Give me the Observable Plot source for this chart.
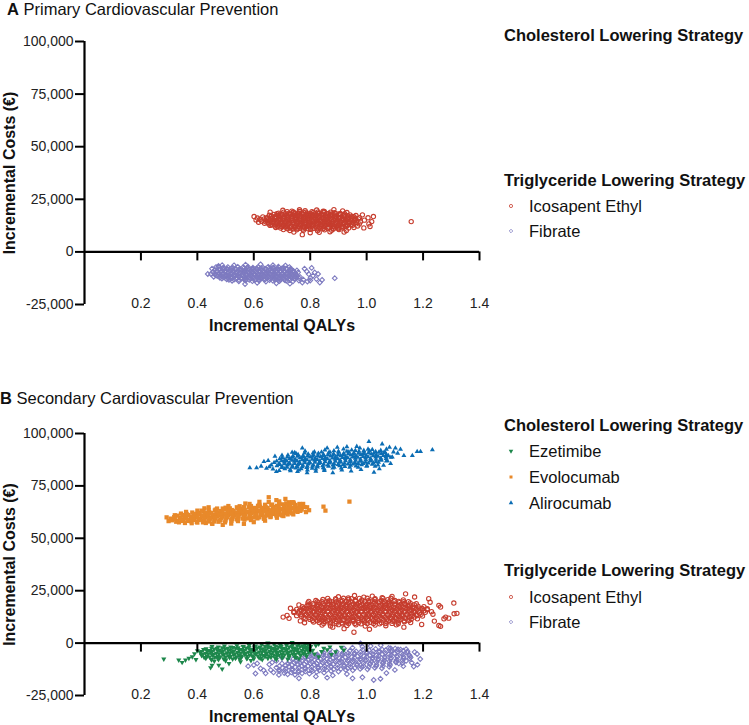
<!DOCTYPE html>
<html>
<head>
<meta charset="utf-8">
<script src="https://cdn.jsdelivr.net/npm/d3@7"></script>
<script src="https://cdn.jsdelivr.net/npm/@observablehq/plot@0.6"></script>
<style>
html,body{margin:0;padding:0;background:#fff;}
body{font-family:"Liberation Sans",Arial,Helvetica,sans-serif;color:#111;}
#wrap{position:relative;width:749px;height:725px;overflow:hidden;}
.abs{position:absolute;white-space:nowrap;line-height:1;transform:translateY(-50%);}
.title{font-size:16.5px;}
.lh{font-size:16.5px;font-weight:bold;}
.li{font-size:16.5px;}
</style>
</head>
<body>
<div id="wrap"></div>
<script>
// ---------- axis ticks ----------
const xTicks = [0.2, 0.4, 0.6, 0.8, 1.0, 1.2, 1.4];
const xTickLabels = ["0.2", "0.4", "0.6", "0.8", "1.0", "1.2", "1.4"];
const yTicks = [-25000, 0, 25000, 50000, 75000, 100000];
const yTickLabels = ["-25,000", "0", "25,000", "50,000", "75,000", "100,000"];

// ---------- texts ----------
const panelTitles = [["A", "Primary Cardiovascular Prevention"], ["B", "Secondary Cardiovascular Prevention"]];
const legendTitles = ["Cholesterol Lowering Strategy", "Triglyceride Lowering Strategy"];
const cholesterolNames = ["Ezetimibe", "Evolocumab", "Alirocumab"];
const triglycerideNames = ["Icosapent Ethyl", "Fibrate"];
const xTitle = "Incremental QALYs";
const yTitle = "Incremental Costs (€)";

// ---------- data: [QALY, cost in thousand €] pairs ----------
// Panel A – Icosapent Ethyl (outer spread + dense core)
const icosapentA = [
0.703,19.8,0.735,19.4,0.782,19.6,0.846,19.3,0.884,20.1,0.915,19.5,0.762,20.0,0.823,19.9,
0.688,18.4,0.706,18.9,0.724,18.3,0.741,18.8,0.758,18.5,0.776,18.9,0.793,18.3,0.811,18.7,0.829,18.4,0.848,18.8,0.866,18.2,0.885,18.6,0.906,18.3,0.93,18.7,
0.655,17.4,0.671,17.8,0.686,17.3,0.701,17.7,0.716,17.5,0.731,17.9,0.746,17.3,0.762,17.6,0.777,17.8,0.793,17.4,0.808,17.7,0.824,17.5,0.839,17.9,0.855,17.3,0.871,17.7,0.887,17.5,0.903,17.8,0.921,17.4,0.941,17.6,0.962,17.3,
0.632,16.6,0.646,16.3,0.661,16.8,0.675,16.4,0.69,16.7,0.704,16.2,0.718,16.6,0.733,16.9,0.747,16.4,0.761,16.7,0.776,16.3,0.79,16.6,0.805,16.8,0.819,16.4,0.834,16.6,0.848,16.2,0.863,16.7,0.877,16.5,0.892,16.8,0.906,16.3,0.921,16.6,0.937,16.4,0.955,16.7,0.975,16.3,
0.622,15.4,0.637,15.7,0.651,15.3,0.665,15.6,0.679,15.8,0.693,15.4,0.707,15.6,0.721,15.3,0.735,15.7,0.749,15.5,0.763,15.2,0.777,15.6,0.791,15.8,0.805,15.4,0.819,15.6,0.833,15.3,0.847,15.7,0.861,15.5,0.875,15.2,0.889,15.6,0.903,15.8,0.918,15.4,0.934,15.6,0.952,15.3,0.971,15.7,
0.628,14.6,0.642,14.3,0.656,14.7,0.67,14.4,0.684,14.6,0.698,14.2,0.712,14.5,0.726,14.8,0.74,14.3,0.754,14.6,0.768,14.4,0.782,14.7,0.796,14.3,0.81,14.5,0.824,14.8,0.838,14.4,0.852,14.6,0.866,14.2,0.88,14.5,0.894,14.7,0.908,14.3,0.923,14.6,0.939,14.4,0.957,14.7,0.978,14.3,
0.638,13.6,0.653,13.3,0.668,13.7,0.682,13.4,0.696,13.6,0.71,13.2,0.724,13.5,0.738,13.8,0.752,13.4,0.766,13.6,0.78,13.3,0.794,13.7,0.808,13.4,0.822,13.6,0.836,13.2,0.85,13.5,0.864,13.8,0.878,13.4,0.892,13.6,0.906,13.3,0.921,13.7,0.937,13.4,0.955,13.6,0.974,13.3,
0.658,12.6,0.674,12.3,0.689,12.7,0.704,12.4,0.719,12.6,0.734,12.2,0.749,12.5,0.764,12.8,0.779,12.3,0.794,12.6,0.809,12.4,0.824,12.7,0.839,12.3,0.854,12.5,0.869,12.8,0.884,12.4,0.899,12.6,0.915,12.2,0.932,12.5,0.951,12.7,0.968,12.3,
0.678,11.6,0.695,11.3,0.712,11.7,0.729,11.4,0.746,11.6,0.763,11.2,0.78,11.5,0.797,11.8,0.814,11.3,0.831,11.6,0.848,11.4,0.865,11.7,0.882,11.2,0.899,11.5,0.917,11.7,0.936,11.3,0.955,11.6,
0.705,10.6,0.728,10.2,0.752,10.5,0.776,10.3,0.801,10.7,0.826,10.1,0.851,10.5,0.876,10.3,0.902,10.6,0.928,10.2,
0.742,9.4,0.772,8.2,0.8,9.1,0.832,9.3,0.87,9.6,0.92,9.4,
0.601,16.8,0.608,15.2,0.617,14.1,0.613,16.1,0.992,15.1,1.005,16.2,1.012,12.1,1.018,14.4,1.024,16.8,1.008,13.3,0.985,17.6,0.99,11.4,0.658,18.9,1.158,14.4
];
const icosapentACore = [
0.718,19.1,0.74,19.0,0.762,19.2,0.784,18.9,0.806,19.1,0.828,19.0,0.85,19.2,0.872,18.9,
0.682,18.1,0.697,17.9,0.712,18.2,0.727,17.9,0.742,18.1,0.757,18.0,0.772,18.2,0.787,17.9,0.802,18.1,0.817,18.0,0.832,18.2,0.847,17.9,0.862,18.1,0.877,18.0,0.892,18.2,0.907,17.9,0.922,18.1,
0.663,17.1,0.678,16.9,0.693,17.2,0.708,16.9,0.723,17.1,0.738,17.0,0.753,17.2,0.768,16.9,0.783,17.1,0.798,17.0,0.813,17.2,0.828,16.9,0.843,17.1,0.858,17.0,0.873,17.2,0.888,16.9,0.903,17.1,0.918,17.0,0.933,17.2,0.948,16.9,
0.646,16.0,0.661,15.9,0.676,16.1,0.691,15.9,0.706,16.0,0.721,16.1,0.736,15.9,0.751,16.0,0.766,16.1,0.781,15.9,0.796,16.0,0.811,16.1,0.826,15.9,0.841,16.0,0.856,16.1,0.871,15.9,0.886,16.0,0.901,16.1,0.916,15.9,0.931,16.0,0.946,16.1,0.961,15.9,
0.643,15.0,0.658,14.9,0.673,15.1,0.688,14.9,0.703,15.0,0.718,15.1,0.733,14.9,0.748,15.0,0.763,15.1,0.778,14.9,0.793,15.0,0.808,15.1,0.823,14.9,0.838,15.0,0.853,15.1,0.868,14.9,0.883,15.0,0.898,15.1,0.913,14.9,0.928,15.0,0.943,15.1,0.958,14.9,
0.65,14.0,0.665,13.9,0.68,14.1,0.695,13.9,0.71,14.0,0.725,14.1,0.74,13.9,0.755,14.0,0.77,14.1,0.785,13.9,0.8,14.0,0.815,14.1,0.83,13.9,0.845,14.0,0.86,14.1,0.875,13.9,0.89,14.0,0.905,14.1,0.92,13.9,0.935,14.0,0.95,14.1,0.965,13.9,
0.662,13.0,0.677,12.9,0.692,13.1,0.707,12.9,0.722,13.0,0.737,13.1,0.752,12.9,0.767,13.0,0.782,13.1,0.797,12.9,0.812,13.0,0.827,13.1,0.842,12.9,0.857,13.0,0.872,13.1,0.887,12.9,0.902,13.0,0.917,13.1,0.932,12.9,0.947,13.0,
0.685,12.0,0.7,11.9,0.715,12.1,0.73,11.9,0.745,12.0,0.76,12.1,0.775,11.9,0.79,12.0,0.805,12.1,0.82,11.9,0.835,12.0,0.85,12.1,0.865,11.9,0.88,12.0,0.895,12.1,0.91,11.9,0.925,12.0,
0.72,11.0,0.738,10.9,0.756,11.1,0.774,10.9,0.792,11.0,0.81,11.1,0.828,10.9,0.846,11.0,0.864,11.1,0.882,10.9,0.9,11.0
];

// Panel A – Fibrate
const fibrateA = [
0.53,-6.4,0.571,-6.1,0.624,-5.9,0.668,-6.3,0.712,-6.5,
0.475,-7.0,0.492,-7.5,0.508,-7.2,0.526,-7.6,0.543,-7.1,0.561,-7.4,0.579,-7.0,0.597,-7.5,0.615,-7.2,0.633,-7.6,0.651,-7.1,0.669,-7.4,0.687,-7.0,0.706,-7.5,0.726,-7.2,
0.462,-8.5,0.477,-8.2,0.492,-8.6,0.507,-8.3,0.522,-8.7,0.537,-8.2,0.552,-8.5,0.567,-8.8,0.582,-8.3,0.597,-8.6,0.612,-8.4,0.627,-8.7,0.642,-8.2,0.657,-8.5,0.672,-8.8,0.687,-8.3,0.702,-8.6,0.718,-8.2,0.735,-8.5,0.753,-8.8,
0.455,-9.6,0.469,-9.3,0.483,-9.7,0.497,-9.4,0.511,-9.8,0.525,-9.3,0.539,-9.6,0.553,-9.9,0.567,-9.4,0.581,-9.7,0.595,-9.5,0.609,-9.8,0.623,-9.3,0.637,-9.6,0.651,-9.9,0.665,-9.4,0.679,-9.7,0.693,-9.3,0.708,-9.6,0.723,-9.9,0.739,-9.4,0.757,-9.7,
0.448,-10.5,0.462,-10.8,0.476,-10.4,0.49,-10.7,0.504,-10.9,0.518,-10.5,0.532,-10.7,0.546,-10.3,0.56,-10.6,0.574,-10.9,0.588,-10.4,0.602,-10.7,0.616,-10.5,0.63,-10.8,0.644,-10.4,0.658,-10.6,0.672,-10.9,0.686,-10.5,0.7,-10.7,0.715,-10.3,0.731,-10.6,0.749,-10.9,
0.458,-11.8,0.473,-11.5,0.488,-11.9,0.503,-11.6,0.518,-12.0,0.533,-11.5,0.548,-11.8,0.563,-11.6,0.578,-11.9,0.593,-11.4,0.608,-11.7,0.623,-12.0,0.638,-11.6,0.653,-11.8,0.668,-11.5,0.683,-11.9,0.698,-11.6,0.713,-11.8,0.729,-11.4,0.746,-11.7,0.764,-11.9,
0.487,-12.7,0.504,-13.0,0.521,-12.6,0.538,-12.9,0.555,-12.7,0.572,-13.1,0.589,-12.6,0.606,-12.9,0.623,-12.7,0.64,-13.0,0.657,-12.6,0.674,-12.9,0.691,-12.7,0.708,-13.1,0.726,-12.6,0.744,-12.9,0.762,-12.7,
0.523,-13.7,0.547,-14.0,0.571,-13.6,0.595,-13.9,0.619,-13.7,0.643,-14.1,0.667,-13.6,0.691,-13.9,0.715,-13.7,0.739,-14.0,0.76,-13.6,
0.569,-15.3,0.612,-14.7,0.68,-14.9,0.728,-15.1,0.772,-14.6,
0.437,-10.5,0.452,-8.0,0.466,-7.2,0.475,-6.7,0.488,-6.3,0.78,-8.0,0.788,-9.3,0.795,-10.6,0.801,-12.4,0.81,-11.3,0.816,-9.8,0.822,-12.9,0.834,-14.6,0.842,-13.3,0.828,-10.5,0.776,-13.2,0.887,-12.5,0.79,-14.1,0.805,-7.6,0.8,-13.6
];
const fibrateACore = [
0.49,-7.9,0.505,-8.0,0.52,-7.8,0.535,-7.9,0.55,-8.0,0.565,-7.8,0.58,-7.9,0.595,-8.0,0.61,-7.8,0.625,-7.9,0.64,-8.0,0.655,-7.8,0.67,-7.9,0.685,-8.0,0.7,-7.8,0.715,-7.9,0.73,-8.0,
0.47,-9.0,0.485,-9.1,0.5,-8.9,0.515,-9.0,0.53,-9.1,0.545,-8.9,0.56,-9.0,0.575,-9.1,0.59,-8.9,0.605,-9.0,0.62,-9.1,0.635,-8.9,0.65,-9.0,0.665,-9.1,0.68,-8.9,0.695,-9.0,0.71,-9.1,0.725,-8.9,0.74,-9.0,
0.462,-10.1,0.477,-10.0,0.492,-10.2,0.507,-10.0,0.522,-10.1,0.537,-10.2,0.552,-10.0,0.567,-10.1,0.582,-10.2,0.597,-10.0,0.612,-10.1,0.627,-10.2,0.642,-10.0,0.657,-10.1,0.672,-10.2,0.687,-10.0,0.702,-10.1,0.717,-10.2,0.732,-10.0,0.747,-10.1,
0.467,-11.2,0.482,-11.1,0.497,-11.3,0.512,-11.1,0.527,-11.2,0.542,-11.3,0.557,-11.1,0.572,-11.2,0.587,-11.3,0.602,-11.1,0.617,-11.2,0.632,-11.3,0.647,-11.1,0.662,-11.2,0.677,-11.3,0.692,-11.1,0.707,-11.2,0.722,-11.3,0.737,-11.1,0.752,-11.2,
0.48,-12.3,0.495,-12.2,0.51,-12.4,0.525,-12.2,0.54,-12.3,0.555,-12.4,0.57,-12.2,0.585,-12.3,0.6,-12.4,0.615,-12.2,0.63,-12.3,0.645,-12.4,0.66,-12.2,0.675,-12.3,0.69,-12.4,0.705,-12.2,0.72,-12.3,0.735,-12.4,0.75,-12.2,
0.512,-13.3,0.53,-13.2,0.548,-13.4,0.566,-13.2,0.584,-13.3,0.602,-13.4,0.62,-13.2,0.638,-13.3,0.656,-13.4,0.674,-13.2,0.692,-13.3,0.71,-13.4,0.728,-13.2
];

// Panel B – Alirocumab
const alirocumabB = [
0.745,90.9,0.782,91.6,0.815,91.2,0.852,92.1,0.884,91.7,0.918,92.6,0.947,92.1,0.976,93.0,1.005,92.5,0.896,93.4,0.772,93.0,
0.721,89.7,0.739,89.3,0.757,89.9,0.775,89.5,0.793,90.2,0.811,89.8,0.829,90.5,0.847,90.0,0.865,90.7,0.883,90.3,0.901,91.0,0.919,90.5,0.937,91.2,0.955,90.8,0.973,91.5,0.991,91.0,1.01,91.7,1.032,91.3,1.05,91.9,
0.692,87.9,0.71,87.5,0.728,88.1,0.746,87.7,0.764,88.4,0.782,88.0,0.8,88.7,0.818,88.3,0.836,88.9,0.854,88.5,0.872,89.2,0.89,88.8,0.908,89.4,0.926,89.0,0.944,89.7,0.962,89.3,0.98,89.9,0.998,89.6,1.016,90.2,1.034,89.8,1.052,90.4,1.07,90.0,
0.672,86.1,0.69,85.8,0.708,86.4,0.726,86.0,0.744,86.7,0.762,86.3,0.78,86.9,0.798,86.5,0.816,87.2,0.834,86.8,0.852,87.4,0.87,87.0,0.888,87.7,0.906,87.3,0.924,87.9,0.942,87.5,0.96,88.2,0.978,87.8,0.996,88.4,1.014,88.0,1.032,88.7,1.05,88.3,1.068,88.9,1.086,88.6,
0.682,84.6,0.7,84.3,0.719,84.9,0.737,84.5,0.756,85.1,0.774,84.8,0.793,85.4,0.811,85.0,0.83,85.6,0.848,85.3,0.867,85.9,0.885,85.5,0.904,86.2,0.922,85.8,0.941,86.4,0.959,86.1,0.978,86.7,0.996,86.3,1.015,86.9,1.033,86.6,1.052,87.2,1.07,86.8,
0.71,83.2,0.729,82.8,0.749,83.5,0.768,83.1,0.788,83.8,0.807,83.4,0.826,84.0,0.846,83.6,0.865,84.3,0.885,83.9,0.904,84.6,0.923,84.2,0.943,84.8,0.962,84.5,0.982,85.1,1.001,84.7,1.02,85.3,1.04,85.0,
0.755,81.8,0.789,81.2,0.82,82.0,0.85,82.3,0.88,81.2,0.912,82.5,0.945,82.1,0.98,82.8,1.026,81.5,0.68,81.8,
0.586,83.6,0.61,83.6,0.626,84.4,0.645,83.4,0.636,86.6,0.651,87.1,0.662,85.0,0.675,89.1,0.655,84.1,0.668,83.0,0.69,82.3,0.7,89.6,0.736,91.0,1.008,96.1,1.055,95.0,0.965,93.8,0.93,93.6,0.86,93.0,
1.081,93.4,1.102,93.0,1.132,89.5,1.162,89.5,1.179,91.4,1.191,91.4,1.233,92.2,1.091,88.7,1.073,87.1,1.095,91.2,1.11,90.6,1.085,85.6,1.06,84.8,1.045,83.1,1.12,92.4,1.07,92.5,1.065,91.0
];
const alirocumabBCore = [
0.701,88.5,0.719,88.7,0.737,88.6,0.755,89.1,0.773,88.9,0.791,89.2,0.809,89.1,0.827,89.5,0.845,89.4,0.863,89.8,0.881,89.6,0.899,90.0,0.917,89.9,0.935,90.3,0.953,90.1,0.971,90.5,0.989,90.4,1.007,90.8,1.025,90.6,1.043,91.0,1.061,90.9,
0.681,86.8,0.699,87.0,0.717,86.9,0.735,87.2,0.753,87.1,0.771,87.5,0.789,87.4,0.807,87.7,0.825,87.6,0.843,88.0,0.861,87.9,0.879,88.3,0.897,88.1,0.915,88.5,0.933,88.4,0.951,88.8,0.969,88.6,0.987,89.0,1.005,88.9,1.023,89.3,1.041,89.1,1.059,89.5,1.077,89.4,
0.691,85.2,0.709,85.5,0.727,85.4,0.745,85.7,0.763,85.6,0.781,86.0,0.799,85.9,0.817,86.2,0.835,86.1,0.853,86.5,0.871,86.3,0.889,86.7,0.907,86.6,0.925,87.0,0.943,86.9,0.961,87.2,0.979,87.1,0.997,87.5,1.015,87.4,1.033,87.7,1.051,87.6,1.069,88.0,
0.7,83.7,0.718,83.9,0.736,83.9,0.754,84.2,0.772,84.1,0.79,84.4,0.808,84.4,0.826,84.7,0.844,84.6,0.862,84.9,0.88,84.9,0.898,85.2,0.916,85.1,0.934,85.4,0.952,85.4,0.97,85.7,0.988,85.6,1.006,85.9,1.024,85.9,1.042,86.2,
0.73,82.2,0.76,82.5,0.79,82.6,0.82,83.0,0.85,83.0,0.88,83.5,0.91,83.5,0.94,83.9,0.97,83.9,1.0,84.3,1.03,84.3,
0.75,90.4,0.78,90.7,0.81,90.7,0.84,91.1,0.87,91.1,0.9,91.5,0.93,91.5,0.96,91.9,0.99,91.9,1.02,92.3
];

// Panel B – Evolocumab
const evolocumabB = [
0.425,64.3,0.47,64.2,0.51,65.4,0.55,65.3,0.585,66.4,0.62,66.0,0.653,67.3,0.69,67.6,0.725,67.2,
0.342,61.8,0.362,61.6,0.382,62.3,0.402,62.1,0.422,62.8,0.442,62.6,0.462,63.3,0.482,63.0,0.502,63.8,0.522,63.5,0.542,64.3,0.562,64.0,0.582,64.8,0.602,64.5,0.622,65.2,0.642,64.9,0.662,65.8,0.682,65.5,0.702,66.2,0.722,65.9,0.742,66.6,0.762,66.4,
0.318,60.1,0.338,59.9,0.357,60.6,0.377,60.4,0.396,61.1,0.416,60.9,0.435,61.6,0.455,61.3,0.474,62.0,0.494,61.8,0.513,62.5,0.533,62.3,0.552,63.0,0.572,62.7,0.591,63.4,0.611,63.2,0.63,63.9,0.65,63.7,0.669,64.4,0.689,64.1,0.708,64.8,0.728,64.6,0.747,65.3,0.767,65.1,
0.31,58.6,0.33,58.4,0.35,59.1,0.37,58.9,0.39,59.6,0.41,59.4,0.43,60.1,0.45,59.9,0.47,60.6,0.49,60.3,0.51,61.0,0.53,60.8,0.55,61.5,0.57,61.3,0.59,62.0,0.61,61.8,0.63,62.5,0.65,62.3,0.67,63.0,0.69,62.8,0.71,63.5,0.73,63.2,0.75,63.9,0.77,63.7,
0.335,57.6,0.356,57.3,0.377,58.1,0.398,57.8,0.419,58.6,0.44,58.3,0.461,59.1,0.482,58.8,0.503,59.6,0.524,59.3,0.545,60.1,0.566,59.8,0.587,60.6,0.608,60.3,0.629,61.1,0.65,60.9,0.671,61.6,0.692,61.3,0.713,62.1,0.734,61.9,0.755,62.6,
0.43,57.3,0.452,57.1,0.475,57.9,0.498,57.6,0.521,58.4,0.544,58.2,0.567,58.9,0.59,58.7,0.613,59.5,0.636,59.3,0.659,60.1,0.682,59.8,0.705,60.6,
0.453,56.9,0.49,56.4,0.52,57.0,0.565,56.9,0.6,57.7,0.64,58.4,
0.291,60.0,0.298,58.2,0.305,59.4,0.32,61.0,0.36,62.6,0.4,63.2,0.653,69.6,0.712,68.8,0.736,67.2,0.766,65.6,0.789,64.8,0.775,66.4,0.796,63.4,0.847,65.1,0.854,63.2,0.939,67.5,0.68,68.2,0.62,67.4,0.57,66.6,0.5,64.6,0.44,64.8,0.785,62.5
];
const evolocumabBCore = [
0.328,60.8,0.348,61.1,0.368,61.1,0.388,61.6,0.408,61.6,0.428,62.1,0.448,62.1,0.468,62.5,0.488,62.6,0.508,63.0,0.528,63.1,0.548,63.5,0.568,63.5,0.588,64.0,0.608,64.0,0.628,64.5,0.648,64.5,0.668,64.9,0.688,65.0,0.708,65.4,0.728,65.5,0.748,65.9,0.768,65.9,
0.32,59.3,0.34,59.6,0.36,59.6,0.38,60.1,0.4,60.1,0.42,60.6,0.44,60.6,0.46,61.0,0.48,61.1,0.5,61.5,0.52,61.6,0.54,62.0,0.56,62.0,0.58,62.5,0.6,62.5,0.62,63.0,0.64,63.0,0.66,63.4,0.68,63.5,0.7,63.9,0.72,64.0,0.74,64.4,0.76,64.4,0.78,64.9,
0.325,57.9,0.345,58.3,0.365,58.3,0.385,58.8,0.405,58.8,0.425,59.2,0.445,59.3,0.465,59.7,0.485,59.7,0.505,60.2,0.525,60.2,0.545,60.7,0.565,60.7,0.585,61.1,0.605,61.2,0.625,61.6,0.645,61.7,0.665,62.1,0.685,62.1,0.705,62.6,0.725,62.6,0.745,63.1,0.765,63.1,
0.38,57.2,0.4,57.5,0.42,57.6,0.44,58.0,0.46,58.0,0.48,58.5,0.5,58.5,0.52,59.0,0.54,59.0,0.56,59.4,0.58,59.5,0.6,59.9,0.62,60.0,0.64,60.4,0.66,60.4,0.68,60.9,0.7,60.9,0.72,61.4,0.74,61.4,
0.415,63.2,0.44,63.6,0.465,63.7,0.49,64.2,0.515,64.3,0.54,64.8,0.565,64.9,0.59,65.4,0.615,65.5,0.64,66.0,0.665,66.1,0.69,66.6,0.715,66.7,0.74,67.2
];

// Panel B – Icosapent Ethyl
const icosapentB = [
0.9,22.1,0.935,21.6,0.957,22.7,0.99,21.9,1.02,22.4,1.055,21.7,1.09,22.3,1.138,23.5,
0.82,20.3,0.845,20.8,0.868,20.2,0.891,20.7,0.914,20.4,0.937,20.9,0.96,20.3,0.983,20.6,1.006,20.2,1.029,20.8,1.052,20.4,1.075,20.7,1.1,20.3,1.13,20.6,
0.792,19.2,0.81,18.8,0.828,19.3,0.846,18.9,0.864,19.1,0.882,18.7,0.9,19.2,0.918,18.9,0.936,19.4,0.954,18.8,0.972,19.1,0.99,18.7,1.008,19.3,1.026,18.9,1.044,19.2,1.062,18.8,1.08,19.1,1.098,18.7,1.116,19.3,1.134,18.9,1.154,19.2,1.176,18.8,
0.772,17.4,0.789,17.8,0.806,17.3,0.823,17.7,0.84,17.5,0.857,17.2,0.874,17.6,0.891,17.8,0.908,17.4,0.925,17.7,0.942,17.3,0.959,17.6,0.976,17.8,0.993,17.4,1.01,17.6,1.027,17.2,1.044,17.7,1.061,17.5,1.078,17.8,1.095,17.3,1.112,17.6,1.129,17.4,1.146,17.8,1.163,17.3,1.182,17.6,1.203,17.4,
0.752,16.1,0.769,15.8,0.786,16.3,0.803,15.9,0.82,16.2,0.837,15.7,0.854,16.1,0.871,16.4,0.888,15.8,0.905,16.1,0.922,15.9,0.939,16.3,0.956,15.8,0.973,16.1,0.99,16.4,1.007,15.9,1.024,16.2,1.041,15.7,1.058,16.1,1.075,16.3,1.092,15.8,1.109,16.2,1.126,15.9,1.143,16.3,1.16,15.8,1.178,16.1,1.197,16.4,1.215,15.9,
0.742,14.6,0.759,14.3,0.776,14.8,0.793,14.4,0.81,14.7,0.827,14.2,0.844,14.6,0.861,14.9,0.878,14.3,0.895,14.6,0.912,14.4,0.929,14.8,0.946,14.3,0.963,14.6,0.98,14.9,0.997,14.4,1.014,14.7,1.031,14.2,1.048,14.6,1.065,14.8,1.082,14.3,1.099,14.7,1.116,14.4,1.133,14.8,1.15,14.3,1.168,14.6,1.187,14.4,1.208,14.7,
0.752,13.1,0.769,12.8,0.786,13.3,0.803,12.9,0.82,13.2,0.837,12.7,0.854,13.1,0.871,13.4,0.888,12.8,0.905,13.1,0.922,12.9,0.939,13.3,0.956,12.8,0.973,13.1,0.99,13.4,1.007,12.9,1.024,13.2,1.041,12.7,1.058,13.1,1.075,13.3,1.092,12.8,1.109,13.2,1.126,12.9,1.143,13.3,1.16,12.8,1.178,13.1,1.198,12.9,
0.782,11.6,0.799,11.3,0.816,11.8,0.833,11.4,0.85,11.7,0.867,11.2,0.884,11.6,0.901,11.9,0.918,11.3,0.935,11.6,0.952,11.4,0.969,11.8,0.986,11.3,1.003,11.6,1.02,11.9,1.037,11.4,1.054,11.7,1.071,11.2,1.088,11.6,1.105,11.8,1.122,11.3,1.139,11.7,1.158,11.4,1.18,11.6,
0.812,10.1,0.832,9.8,0.852,10.3,0.872,9.9,0.892,10.2,0.912,9.7,0.932,10.1,0.952,10.4,0.972,9.8,0.992,10.1,1.012,9.9,1.032,10.3,1.052,9.8,1.072,10.1,1.092,10.4,1.112,9.9,1.134,10.2,1.156,9.8,
0.842,8.6,0.872,8.2,0.9,8.8,0.93,8.4,0.962,8.7,0.995,8.1,1.03,8.6,1.068,8.3,1.105,8.7,
0.88,7.6,0.92,6.9,0.955,5.2,1.01,6.6,1.132,7.6,
0.704,12.4,0.718,13.2,0.742,15.1,0.777,16.4,0.795,19.9,0.73,16.6,0.725,11.8,0.76,18.2,0.765,10.6,0.78,9.7,
1.197,16.4,1.215,16.4,1.235,13.8,1.256,18.0,1.262,17.2,1.274,11.6,1.28,12.4,1.256,8.4,1.262,8.0,1.291,11.9,1.309,19.1,1.31,14.0,1.32,14.2,1.225,19.5,1.24,10.5,1.22,21.2,1.17,22.0,1.195,8.9,1.23,15.0
];
const icosapentBCore = [
0.862,21.3,0.89,21.2,0.918,21.4,0.946,21.2,0.974,21.3,1.002,21.4,1.03,21.2,1.058,21.3,1.086,21.4,
0.825,19.8,0.842,19.7,0.859,19.9,0.876,19.7,0.893,19.8,0.91,19.9,0.927,19.7,0.944,19.8,0.961,19.9,0.978,19.7,0.995,19.8,1.012,19.9,1.029,19.7,1.046,19.8,1.063,19.9,1.08,19.7,1.097,19.8,1.114,19.9,1.131,19.7,1.148,19.8,
0.795,18.3,0.812,18.2,0.829,18.4,0.846,18.2,0.863,18.3,0.88,18.4,0.897,18.2,0.914,18.3,0.931,18.4,0.948,18.2,0.965,18.3,0.982,18.4,0.999,18.2,1.016,18.3,1.033,18.4,1.05,18.2,1.067,18.3,1.084,18.4,1.101,18.2,1.118,18.3,1.135,18.4,1.152,18.2,1.169,18.3,
0.778,16.8,0.795,16.7,0.812,16.9,0.829,16.7,0.846,16.8,0.863,16.9,0.88,16.7,0.897,16.8,0.914,16.9,0.931,16.7,0.948,16.8,0.965,16.9,0.982,16.7,0.999,16.8,1.016,16.9,1.033,16.7,1.05,16.8,1.067,16.9,1.084,16.7,1.101,16.8,1.118,16.9,1.135,16.7,1.152,16.8,1.169,16.9,1.186,16.7,
0.761,15.3,0.778,15.2,0.795,15.4,0.812,15.2,0.829,15.3,0.846,15.4,0.863,15.2,0.88,15.3,0.897,15.4,0.914,15.2,0.931,15.3,0.948,15.4,0.965,15.2,0.982,15.3,0.999,15.4,1.016,15.2,1.033,15.3,1.05,15.4,1.067,15.2,1.084,15.3,1.101,15.4,1.118,15.2,1.135,15.3,1.152,15.4,1.169,15.2,1.186,15.3,1.203,15.4,
0.768,13.8,0.785,13.7,0.802,13.9,0.819,13.7,0.836,13.8,0.853,13.9,0.87,13.7,0.887,13.8,0.904,13.9,0.921,13.7,0.938,13.8,0.955,13.9,0.972,13.7,0.989,13.8,1.006,13.9,1.023,13.7,1.04,13.8,1.057,13.9,1.074,13.7,1.091,13.8,1.108,13.9,1.125,13.7,1.142,13.8,1.159,13.9,1.176,13.7,1.193,13.8,
0.778,12.3,0.795,12.2,0.812,12.4,0.829,12.2,0.846,12.3,0.863,12.4,0.88,12.2,0.897,12.3,0.914,12.4,0.931,12.2,0.948,12.3,0.965,12.4,0.982,12.2,0.999,12.3,1.016,12.4,1.033,12.2,1.05,12.3,1.067,12.4,1.084,12.2,1.101,12.3,1.118,12.4,1.135,12.2,1.152,12.3,1.169,12.4,
0.808,10.8,0.826,10.7,0.844,10.9,0.862,10.7,0.88,10.8,0.898,10.9,0.916,10.7,0.934,10.8,0.952,10.9,0.97,10.7,0.988,10.8,1.006,10.9,1.024,10.7,1.042,10.8,1.06,10.9,1.078,10.7,1.096,10.8,1.114,10.9,1.132,10.7,1.15,10.8,
0.848,9.3,0.87,9.2,0.892,9.4,0.914,9.2,0.936,9.3,0.958,9.4,0.98,9.2,1.002,9.3,1.024,9.4,1.046,9.2,1.068,9.3,1.09,9.4,1.112,9.2
];

// Panel B – Ezetimibe
const ezetimibeB = [
0.452,-1.6,0.474,-1.9,0.496,-1.4,0.518,-1.8,0.54,-1.2,0.562,-1.6,0.584,-1.0,0.606,-1.4,0.628,-0.8,0.65,-1.2,0.672,-0.6,0.694,-1.1,0.716,-0.5,0.738,-0.9,0.76,-0.4,0.782,-0.7,
0.422,-3.1,0.441,-3.5,0.46,-2.9,0.479,-3.3,0.498,-2.8,0.517,-3.2,0.536,-2.6,0.555,-3.0,0.574,-2.5,0.593,-2.9,0.612,-2.3,0.631,-2.7,0.65,-2.2,0.669,-2.6,0.688,-2.0,0.707,-2.4,0.726,-1.9,0.745,-2.3,0.764,-1.7,0.783,-2.1,0.802,-1.6,
0.41,-4.5,0.429,-4.9,0.448,-4.4,0.467,-4.8,0.486,-4.2,0.505,-4.6,0.524,-4.1,0.543,-4.5,0.562,-3.9,0.581,-4.3,0.6,-3.8,0.619,-4.2,0.638,-3.6,0.657,-4.0,0.676,-3.5,0.695,-3.9,0.714,-3.3,0.733,-3.7,0.752,-3.2,0.771,-3.5,0.79,-3.0,0.809,-3.4,
0.415,-5.9,0.434,-6.3,0.453,-5.8,0.472,-6.2,0.491,-5.6,0.51,-6.0,0.529,-5.5,0.548,-5.9,0.567,-5.3,0.586,-5.7,0.605,-5.2,0.624,-5.6,0.643,-5.0,0.662,-5.4,0.681,-4.8,0.7,-5.3,0.719,-4.7,0.738,-5.1,0.757,-4.5,0.776,-4.9,0.795,-4.4,
0.43,-7.3,0.451,-7.7,0.472,-7.1,0.493,-7.5,0.514,-6.9,0.535,-7.3,0.556,-6.8,0.577,-7.1,0.598,-6.6,0.619,-7.0,0.64,-6.4,0.661,-6.8,0.682,-6.3,0.703,-6.6,0.724,-6.1,0.745,-6.5,0.766,-5.9,0.787,-6.3,
0.452,-10.5,0.476,-10.5,0.512,-9.7,0.553,-8.9,0.46,-8.6,0.5,-8.4,0.59,-8.3,0.63,-7.9,0.68,-7.8,0.72,-7.6,0.76,-7.4,
0.281,-7.6,0.334,-8.1,0.346,-9.2,0.358,-8.1,0.382,-6.5,0.37,-7.2,0.39,-5.1,0.395,-7.8,0.4,-3.6,0.447,-11.7,0.488,-12.4,
0.848,-2.5,0.89,-4.1,0.919,-3.3,0.83,-6.5,0.82,-1.2,0.84,-4.0,0.86,-3.2,0.875,-5.4,0.815,-5.2,0.736,0.3,0.65,0.1,0.58,-0.2,0.83,-0.4,0.87,-1.8,0.91,-2.0
];
const ezetimibeBCore = [
0.431,-2.7,0.45,-2.4,0.469,-2.5,0.488,-2.2,0.507,-2.4,0.526,-2.1,0.545,-2.2,0.564,-1.9,0.583,-2.1,0.602,-1.8,0.621,-1.9,0.64,-1.6,0.659,-1.8,0.678,-1.5,0.697,-1.6,0.716,-1.3,0.735,-1.5,0.754,-1.2,0.773,-1.3,0.792,-1.0,
0.415,-4.0,0.434,-3.8,0.453,-4.0,0.472,-3.7,0.491,-3.8,0.51,-3.6,0.529,-3.7,0.548,-3.4,0.567,-3.5,0.586,-3.3,0.605,-3.4,0.624,-3.1,0.643,-3.2,0.662,-3.0,0.681,-3.1,0.7,-2.8,0.719,-2.9,0.738,-2.6,0.757,-2.8,0.776,-2.5,0.795,-2.6,
0.42,-5.4,0.439,-5.2,0.458,-5.4,0.477,-5.1,0.496,-5.2,0.515,-4.9,0.534,-5.1,0.553,-4.8,0.572,-4.9,0.591,-4.6,0.61,-4.8,0.629,-4.5,0.648,-4.6,0.667,-4.3,0.686,-4.5,0.705,-4.2,0.724,-4.3,0.743,-4.0,0.762,-4.2,0.781,-3.9,0.8,-4.0,
0.424,-6.8,0.443,-6.6,0.462,-6.8,0.481,-6.5,0.5,-6.6,0.519,-6.3,0.538,-6.5,0.557,-6.2,0.576,-6.3,0.595,-6.0,0.614,-6.1,0.633,-5.9,0.652,-6.0,0.671,-5.7,0.69,-5.8,0.709,-5.6,0.728,-5.7,0.747,-5.4,0.766,-5.5,0.785,-5.3,
0.45,-8.0,0.475,-7.8,0.5,-7.9,0.525,-7.6,0.55,-7.7,0.575,-7.4,0.6,-7.5,0.625,-7.2,0.65,-7.3,0.675,-7.0,0.7,-7.1,0.725,-6.8,0.75,-6.9
];

// Panel B – Fibrate
const fibrateB = [
0.802,-5.0,0.825,-5.4,0.848,-4.6,0.871,-4.9,0.894,-4.1,0.917,-4.5,0.94,-3.7,0.963,-4.0,0.986,-3.2,1.009,-3.5,1.032,-2.8,1.055,-3.1,1.078,-2.3,1.101,-2.6,
0.74,-7.5,0.762,-7.8,0.783,-7.0,0.805,-7.3,0.827,-6.6,0.848,-6.9,0.87,-6.2,0.892,-6.5,0.914,-5.7,0.935,-6.0,0.957,-5.3,0.979,-5.6,1.0,-4.9,1.022,-5.2,1.044,-4.4,1.066,-4.7,1.087,-4.0,1.109,-4.3,1.13,-3.6,
0.7,-9.7,0.721,-9.9,0.743,-9.2,0.764,-9.5,0.786,-8.8,0.807,-9.1,0.829,-8.4,0.85,-8.7,0.871,-7.9,0.893,-8.2,0.914,-7.5,0.936,-7.8,0.957,-7.1,0.979,-7.4,1.0,-6.7,1.021,-6.9,1.043,-6.2,1.064,-6.5,1.086,-5.8,1.107,-6.1,1.129,-5.4,1.15,-5.6,
0.68,-11.7,0.702,-11.9,0.725,-11.2,0.747,-11.5,0.77,-10.8,0.792,-11.0,0.815,-10.3,0.837,-10.6,0.86,-9.9,0.882,-10.1,0.905,-9.4,0.927,-9.7,0.95,-9.0,0.972,-9.2,0.995,-8.5,1.017,-8.8,1.04,-8.1,1.062,-8.3,1.085,-7.6,1.107,-7.9,1.13,-7.2,1.152,-7.4,
0.69,-13.4,0.713,-13.6,0.736,-12.9,0.759,-13.2,0.782,-12.4,0.805,-12.7,0.828,-12.0,0.851,-12.2,0.874,-11.5,0.897,-11.8,0.92,-11.1,0.943,-11.3,0.966,-10.6,0.989,-10.9,1.012,-10.1,1.035,-10.4,1.058,-9.7,1.081,-9.9,1.104,-9.2,1.127,-9.5,
0.72,-14.9,0.746,-15.1,0.771,-14.4,0.797,-14.6,0.823,-13.8,0.849,-14.1,0.874,-13.3,0.9,-13.6,0.926,-12.8,0.951,-13.0,0.977,-12.3,1.003,-12.5,1.029,-11.8,1.054,-12.0,1.08,-11.3,
0.689,-15.2,0.76,-16.8,0.82,-15.9,0.88,-15.4,0.95,-16.8,0.985,-16.3,1.025,-17.6,1.049,-17.0,1.07,-14.3,0.93,-14.8,1.1,-12.8,0.86,-16.5,
0.978,-0.1,1.014,-1.4,1.085,-2.5,1.05,-1.0,0.95,-2.2,0.92,-2.6,0.985,-1.8,1.12,-3.1,1.14,-2.9,0.87,-3.1,
0.553,-6.5,0.606,-14.5,0.612,-9.7,0.624,-12.1,0.642,-14.4,0.58,-11.0,0.6,-10.5,0.635,-13.0,0.66,-12.8,0.655,-10.2,0.67,-14.0,0.665,-9.2,0.68,-8.5,0.7,-7.0,
1.179,-5.2,1.156,-6.8,1.167,-11.2,1.114,-9.7,1.14,-8.5,1.17,-4.3,1.16,-9.4,1.145,-3.9,1.19,-7.6,1.13,-11.0,1.18,-10.3
];
const fibrateBCore = [
0.781,-6.4,0.803,-6.1,0.825,-6.0,0.847,-5.6,0.869,-5.6,0.891,-5.2,0.913,-5.2,0.935,-4.8,0.957,-4.7,0.979,-4.3,1.001,-4.3,1.023,-3.9,1.045,-3.8,1.067,-3.4,1.089,-3.4,1.111,-3.0,
0.726,-8.7,0.748,-8.4,0.77,-8.4,0.792,-8.0,0.814,-8.0,0.836,-7.5,0.858,-7.5,0.88,-7.1,0.902,-7.1,0.924,-6.7,0.946,-6.6,0.968,-6.2,0.99,-6.2,1.012,-5.8,1.034,-5.8,1.056,-5.3,1.078,-5.3,1.1,-4.9,1.122,-4.9,1.144,-4.5,
0.691,-10.9,0.713,-10.6,0.735,-10.5,0.757,-10.1,0.779,-10.1,0.801,-9.7,0.823,-9.7,0.845,-9.3,0.867,-9.2,0.889,-8.8,0.911,-8.8,0.933,-8.4,0.955,-8.3,0.977,-7.9,0.999,-7.9,1.021,-7.5,1.043,-7.5,1.065,-7.1,1.087,-7.0,1.109,-6.6,1.131,-6.6,1.153,-6.2,
0.69,-12.7,0.713,-12.4,0.736,-12.3,0.759,-11.9,0.782,-11.9,0.805,-11.5,0.828,-11.4,0.851,-11.0,0.874,-11.0,0.897,-10.5,0.92,-10.5,0.943,-10.1,0.966,-10.0,0.989,-9.6,1.012,-9.6,1.035,-9.2,1.058,-9.1,1.081,-8.7,1.104,-8.7,1.127,-8.2,
0.708,-14.3,0.733,-14.0,0.758,-13.9,0.783,-13.5,0.808,-13.4,0.833,-13.0,0.858,-12.9,0.883,-12.5,0.908,-12.4,0.933,-12.0,0.958,-11.9,0.983,-11.5,1.008,-11.4,1.033,-11.0,1.058,-10.9,1.083,-10.5
];

// ---------- styles ----------
const invTriangle = {
  draw(ctx, size) {
    const y = -Math.sqrt(size / (Math.sqrt(3) * 3));
    ctx.moveTo(0, -y * 2);
    ctx.lineTo(-Math.sqrt(3) * y, y);
    ctx.lineTo(Math.sqrt(3) * y, y);
    ctx.closePath();
  }
};
const styles = {
  "Icosapent Ethyl": {symbol: "circle", d3type: d3.symbolCircle, color: "#c63d2e", fill: false, r: 2.15},
  "Fibrate": {symbol: "diamond2", d3type: d3.symbolDiamond2, color: "#7e7bc0", fill: false, r: 2.15},
  "Ezetimibe": {symbol: invTriangle, d3type: invTriangle, color: "#1d874b", fill: true, r: 1.9},
  "Evolocumab": {symbol: "square", d3type: d3.symbolSquare, color: "#e8892a", fill: true, r: 2.4},
  "Alirocumab": {symbol: "triangle", d3type: d3.symbolTriangle, color: "#0b6db4", fill: true, r: 1.85}
};

const pts = a => d3.range(0, a.length, 2).map(i => ({x: a[i], y: a[i + 1] * 1000}));

function panel(series, height, marginTop, marginBottom) {
  const marks = series.map(([name, data]) => {
    const s = styles[name];
    return Plot.dot(pts(data), {
      x: "x", y: "y", symbol: s.symbol, r: s.r,
      fill: s.fill ? s.color : "none",
      stroke: s.fill ? "none" : s.color,
      strokeWidth: s.fill ? 0 : 1.1
    });
  });
  marks.push(
    Plot.ruleY(yTicks, {y: d => d, x1: d => 0, x2: d => 0, insetLeft: -9, stroke: "#000", strokeWidth: 2}),
    Plot.ruleX(xTicks, {x: d => d, y1: d => 0, y2: d => 0, insetBottom: -9, stroke: "#000", strokeWidth: 2}),
    Plot.ruleX([0], {stroke: "#000", strokeWidth: 2.2}),
    Plot.ruleY([0], {stroke: "#000", strokeWidth: 2.2}),
    Plot.text(yTicks, {y: d => d, text: (d, i) => yTickLabels[i], frameAnchor: "left", textAnchor: "end", dx: -11, fontSize: 14, fill: "#222"}),
    Plot.text(xTicks, {x: d => d, text: (d, i) => xTickLabels[i], frameAnchor: "bottom", textAnchor: "middle", lineAnchor: "middle", dy: -1, fontSize: 14, fill: "#222"}),
    Plot.text([xTitle], {text: d => d, frameAnchor: "bottom", textAnchor: "middle", lineAnchor: "middle", dy: 21, fontSize: 16, fontWeight: "bold", fill: "#111"}),
    Plot.text([yTitle], {text: d => d, frameAnchor: "left", textAnchor: "middle", lineAnchor: "middle", rotate: -90, dx: -75, fontSize: 16, fontWeight: "bold", fill: "#111"})
  );
  return Plot.plot({
    width: 500, height, marginLeft: 84, marginRight: 21, marginTop, marginBottom,
    x: {domain: [0, 1.4], axis: null},
    y: {domain: [-25000, 100000], axis: null},
    style: {fontFamily: "'Liberation Sans', Arial, Helvetica, sans-serif", fontSize: "14px", color: "#111", background: "transparent"},
    marks
  });
}

const wrap = document.getElementById("wrap");
function place(node, top) {
  node.style.position = "absolute";
  node.style.left = "0px";
  node.style.top = top + "px";
  wrap.appendChild(node);
}
place(panel([
  ["Icosapent Ethyl", icosapentA.concat(icosapentACore)],
  ["Fibrate", fibrateA.concat(fibrateACore)]
], 335, 41, 31), 0);
place(panel([
  ["Alirocumab", alirocumabB.concat(alirocumabBCore)],
  ["Evolocumab", evolocumabB.concat(evolocumabBCore)],
  ["Icosapent Ethyl", icosapentB.concat(icosapentBCore)],
  ["Fibrate", fibrateB.concat(fibrateBCore)],
  ["Ezetimibe", ezetimibeB.concat(ezetimibeBCore)]
], 333, 41, 30), 392);

function addText(cls, html, left, cy) {
  const d = document.createElement("div");
  d.className = "abs " + cls;
  d.style.left = left + "px";
  d.style.top = cy + "px";
  d.innerHTML = html;
  wrap.appendChild(d);
}
function addSymbol(name, cy) {
  const s = styles[name];
  const svg = d3.create("svg").attr("width", 12).attr("height", 12)
    .style("position", "absolute").style("left", "504.5px").style("top", (cy - 6) + "px");
  svg.append("path")
    .attr("transform", "translate(6,6)")
    .attr("d", d3.symbol().type(s.d3type).size(s.fill ? 9 : 8)())
    .attr("fill", s.fill ? s.color : "none")
    .attr("stroke", s.fill ? "none" : s.color)
    .attr("stroke-width", s.fill ? 0 : 0.8);
  wrap.appendChild(svg.node());
}

// panel titles
addText("title", "<b>" + panelTitles[0][0] + "</b> " + panelTitles[0][1], 7, 8.5);
addText("title", "<b>" + panelTitles[1][0] + "</b> " + panelTitles[1][1], 0, 398);

// legend A
addText("lh", legendTitles[0], 504, 34.5);
addText("lh", legendTitles[1], 504, 180);
[206, 231].forEach((cy, i) => { addSymbol(triglycerideNames[i], cy); addText("li", triglycerideNames[i], 529, cy); });

// legend B
addText("lh", legendTitles[0], 504, 425);
[451, 477, 503].forEach((cy, i) => { addSymbol(cholesterolNames[i], cy); addText("li", cholesterolNames[i], 529, cy); });
addText("lh", legendTitles[1], 504, 570);
[597, 622].forEach((cy, i) => { addSymbol(triglycerideNames[i], cy); addText("li", triglycerideNames[i], 529, cy); });
</script>
</body>
</html>
